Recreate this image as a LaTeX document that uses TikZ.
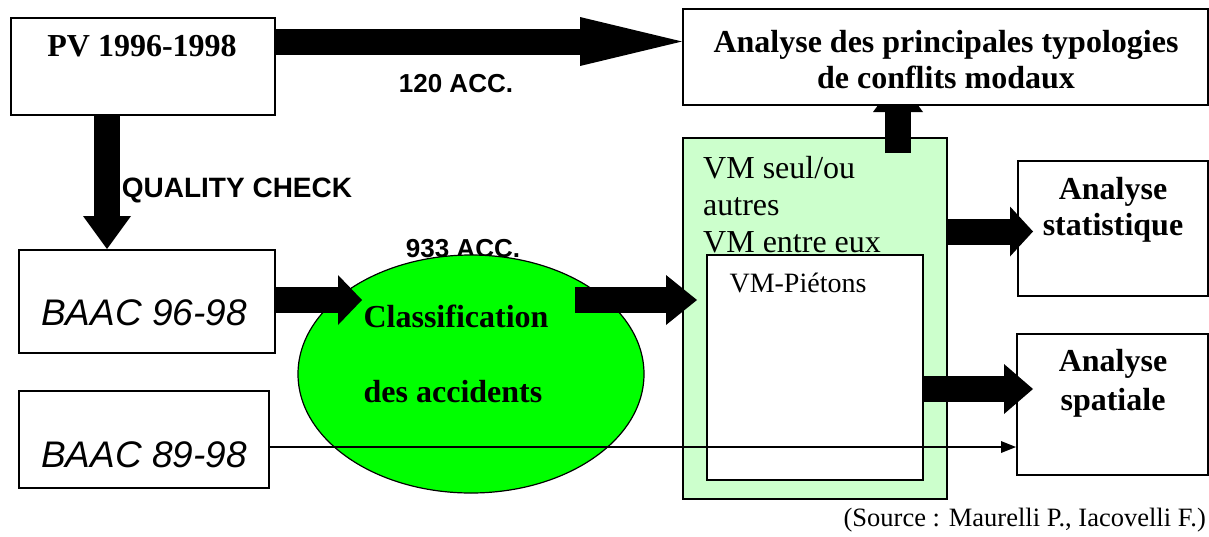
\documentclass[tikz,border=0pt]{standalone}
\usepackage{fontspec}
\setmainfont{Liberation Serif}
\newfontfamily\arialf{Liberation Sans}
\usetikzlibrary{arrows.meta,shapes.geometric}
\begin{document}
\begin{tikzpicture}[x=1pt,y=-1pt,
  box/.style={draw=black, line width=1.5pt, fill=white, inner sep=0pt, anchor=north west},
  bftext/.style={font=\fontsize{32}{36}\selectfont\bfseries, inner sep=0pt, align=center},
  rmtext/.style={font=\fontsize{32}{37}\selectfont, inner sep=0pt, align=left},
  lbl/.style={font=\arialf\bfseries\fontsize{26}{30}\selectfont, inner sep=0pt},
  baac/.style={font=\arialf\itshape\fontsize{37}{40}\selectfont, inner sep=0pt},
  fat/.style={line width=26pt, draw=black},
  thin/.style={line width=1.3pt, draw=black, -{Triangle[length=15pt,width=12pt,line width=0pt]}}]
\useasboundingbox (0,0) rectangle (1209,536);

% green box with inner box
\node[box, fill={rgb,255:red,204;green,255;blue,204}, minimum width=264pt, minimum height=361pt] (vm) at (682,137) {};
\node[box, minimum width=216pt, minimum height=225pt] (inner) at (706,254) {};
\node[rmtext, anchor=west] (vmt) at (703,205) {VM seul/ou\\autres\\VM entre eux};
\node[font=\fontsize{28}{32}\selectfont, inner sep=0pt] (piet) at (798,283) {VM-Piétons};

% up arrow under the analysis box
\coordinate (upstart) at (898,153);
\coordinate (uptip) at (898,78);
\draw[fat,-{Triangle[length=34pt,width=50pt,line width=0pt]}] (upstart) -- (uptip);

% boxes
\node[box, minimum width=525pt, minimum height=96pt] (an) at (682,8) {};
\node[bftext] (ant) at (946,60) {Analyse des principales typologies\\de conflits modaux};
\node[box, minimum width=264pt, minimum height=97pt] (pv) at (10,17) {};
\node[bftext] (pvt) at (142,46) {PV 1996-1998};
\node[box, minimum width=256pt, minimum height=103pt] (baac1) at (18,249) {};
\node[baac] (b1t) at (144,313) {BAAC 96-98};
\node[box, minimum width=250pt, minimum height=97pt] (baac2) at (18,390) {};
\node[baac] (b2t) at (144,455) {BAAC 89-98};
\node[box, minimum width=190pt, minimum height=135pt] (stat) at (1017,160) {};
\node[bftext] (statt) at (1113,210) {Analyse\\statistique};
\node[box, minimum width=191pt, minimum height=141pt] (spat) at (1016,333) {};
\node[bftext, font=\fontsize{32}{39}\selectfont\bfseries] (spatt) at (1113,383) {Analyse\\spatiale};

% labels
\node[lbl] (l120) at (456,84) {120 ACC.};
\node[lbl, font=\arialf\bfseries\fontsize{28}{32}\selectfont] (lqc) at (237,190) {QUALITY CHECK};
\node[lbl] (l933) at (463,249) {933 ACC.};

% ellipse
\node[ellipse, draw=black, line width=1.2pt, fill={rgb,255:red,0;green,255;blue,0}, minimum width=346pt, minimum height=238pt, inner sep=0pt] (ell) at (471,374) {};
\node[bftext] (c1) at (456,316) {Classification};
\node[bftext] (c2) at (453,392) {des accidents};

% fat arrows
\draw[fat,-{Triangle[length=102pt,width=49pt,line width=0pt]}] (pv.east |- 0,41.5) -- (an.west |- 0,41.5);
\draw[fat,-{Triangle[length=33pt,width=48pt,line width=0pt]}] (pv.south -| 107,0) -- (baac1.north -| 107,0);
\coordinate (t3) at (362,300);
\draw[fat,-{Triangle[length=24pt,width=50pt,line width=0pt]}] (baac1.east |- t3) -- (t3);
\coordinate (s4) at (575,300);
\coordinate (t4) at (697,300);
\draw[fat,-{Triangle[length=31pt,width=50pt,line width=0pt]}] (s4) -- (t4);
\coordinate (t6) at (1033,231.5);
\draw[fat,-{Triangle[length=23pt,width=50pt,line width=0pt]}] (vm.east |- t6) -- (t6);
\coordinate (t7) at (1033,389);
\draw[fat,-{Triangle[length=29pt,width=50pt,line width=0pt]}] (inner.east |- t7) -- (t7);

% thin arrow
\draw[thin] (baac2.east |- 0,447) -- (spat.west |- 0,447);

% source
\node[font=\fontsize{26.5}{30}\selectfont, inner sep=0pt, anchor=east] (src) at (1206,520) {(Source : Maurelli P., Iacovelli F.)};
\end{tikzpicture}
\end{document}
